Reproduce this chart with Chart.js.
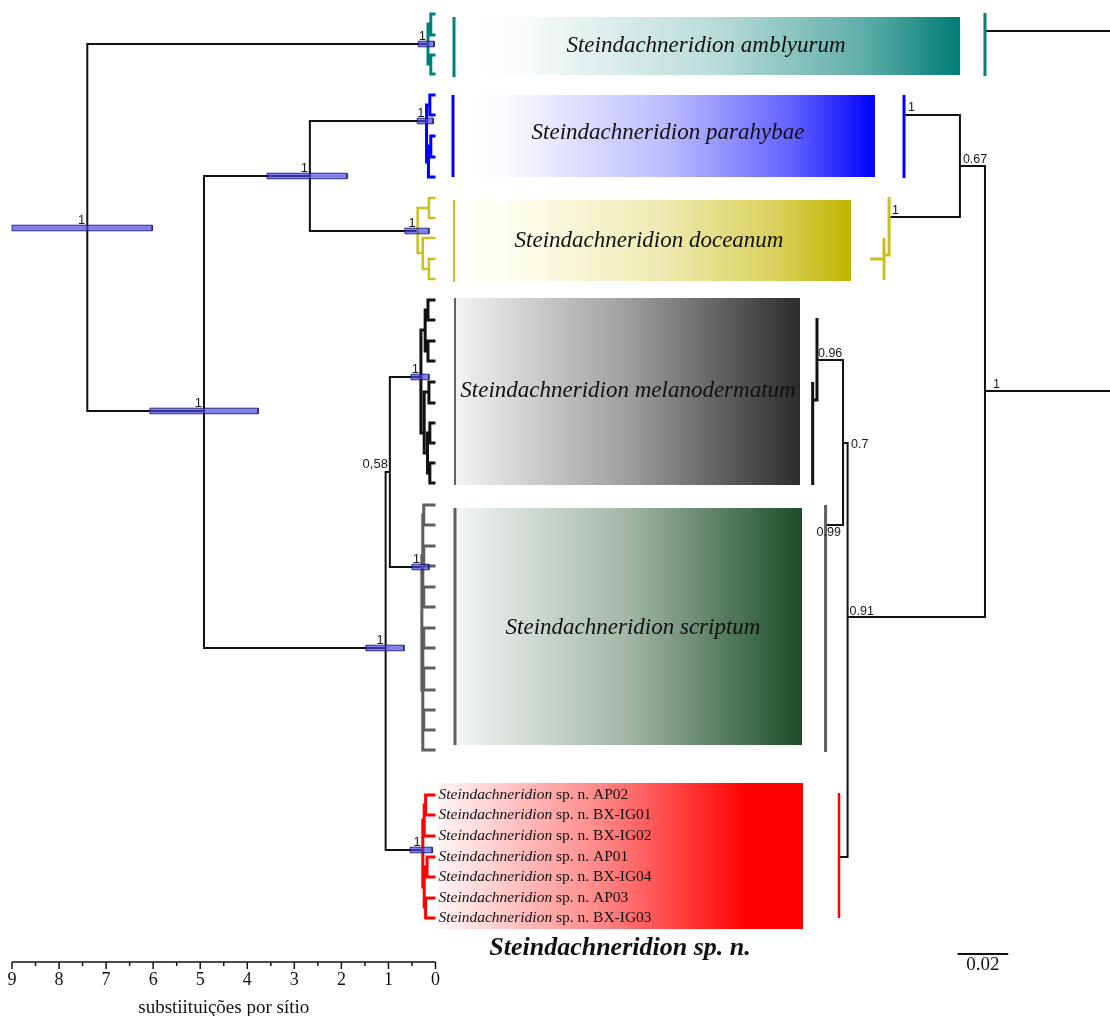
<!DOCTYPE html>
<html>
<head>
<meta charset="utf-8">
<script src="https://cdn.jsdelivr.net/npm/chart.js@4.4.1/dist/chart.umd.min.js"></script>
<style>html,body{margin:0;padding:0;background:#fff}</style>
</head>
<body>
<canvas id="tree" width="1110" height="1016"></canvas>
<script>
// ---------- left tree: time axis, substitutions per site (9 .. 0)
const axisTicks = [0, 1, 2, 3, 4, 5, 6, 7, 8, 9]
const minorTicks = [0.5, 1.5, 2.5, 3.5, 4.5, 5.5, 6.5, 7.5, 8.5]

// [id, parent, age, y-row]
const backbone = [
    ['root', null, 7.40, 228],
    ['amb', 'root', 0.16, 44],
    ['n411', 'root', 4.92, 411],
    ['n176', 'n411', 2.67, 176],
    ['par', 'n176', 0.19, 121],
    ['doc', 'n176', 0.38, 231],
    ['n648', 'n411', 1.06, 648],
    ['n472', 'n648', 0.97, 472],
    ['mel', 'n472', 0.31, 377],
    ['scr', 'n472', 0.29, 567],
    ['spn', 'n648', 0.27, 850],
]
const tealNodes = [['t1', 'amb', 0.10, 24], ['t2', 'amb', 0.10, 64]]
const tealTips = [['t1', 14], ['t1', 35], ['t2', 55], ['t2', 74]]
const blueNodes = [['b1', 'par', 0.12, 105], ['b2', 'par', 0.15, 162], ['b3', 'b2', 0.10, 146]]
const blueTips = [['b1', 95], ['b1', 115], ['b3', 136], ['b3', 157], ['b2', 177]]
const yellowNodes = [['y1', 'doc', 0.14, 208], ['y2', 'doc', 0.27, 253], ['y3', 'y2', 0.14, 269]]
const yellowTips = [['y1', 198], ['y1', 218], ['y2', 238], ['y3', 259], ['y3', 279]]
const melNodes = [
    ['m1', 'mel', 0.22, 330], ['m2', 'm1', 0.16, 310], ['m3', 'm1', 0.16, 351],
    ['m4', 'mel', 0.24, 433], ['m5', 'm4', 0.14, 392], ['m6', 'm4', 0.17, 453],
    ['m7', 'm6', 0.12, 433], ['m8', 'm6', 0.12, 473],
]
const melTips = [['m2', 300], ['m2', 320], ['m3', 341], ['m3', 361], ['m5', 382], ['m5', 403],
    ['m7', 423], ['m7', 443], ['m8', 463], ['m8', 483]]
const scrNodes = [
    ['s1', 'scr', 0.27, 556], ['s2', 'scr', 0.27, 690],
    ['p1', 's1', 0.25, 515], ['p2', 's1', 0.25, 556], ['p3', 's1', 0.25, 597],
    ['p4', 's2', 0.25, 638], ['p5', 's2', 0.25, 679], ['p6', 's2', 0.25, 720],
]
const scrTips = [['p1', 505], ['p1', 525], ['p2', 546], ['p2', 566], ['p3', 587], ['p3', 607],
    ['p4', 628], ['p4', 648], ['p5', 668], ['p5', 690], ['p6', 710], ['p6', 730], ['s2', 750]]
const spnNodes = [['r1', 'spn', 0.24, 820], ['r2', 'spn', 0.24, 887], ['r3', 'r1', 0.21, 805],
    ['r4', 'r2', 0.18, 867], ['r5', 'r2', 0.21, 907]]
const spnTips = [['r3', 795], ['r3', 815], ['r1', 836], ['r4', 857], ['r4', 877], ['r5', 898], ['r5', 918]]
const spnTipNames = ['AP02', 'BX-IG01', 'BX-IG02', 'AP01', 'BX-IG04', 'AP03', 'BX-IG03']

// 95% HPD of node ages: [node, older, younger]
const hpd = [
    ['root', 9.00, 6.02], ['n411', 6.07, 3.77], ['n176', 3.58, 1.88], ['n648', 1.48, 0.67],
    ['amb', 0.37, 0.03], ['par', 0.39, 0.05], ['doc', 0.65, 0.14],
    ['mel', 0.52, 0.14], ['scr', 0.50, 0.14], ['spn', 0.54, 0.07],
]
const leftSupport = [
    ['root', '1'], ['n411', '1'], ['n176', '1'], ['n648', '1'], ['n472', '0,58'],
    ['amb', '1'], ['par', '1'], ['doc', '1'], ['mel', '1'], ['scr', '1'], ['spn', '1'],
]

// ---------- right tree: substitutions per site (scale bar 0.02)
const rightBackbone = [
    ['rRoot', null, -0.060, 211],
    ['rAmb', 'rRoot', 0.0004, 31],
    ['rN1', 'rRoot', 0.0004, 391],
    ['rN067', 'rN1', 0.0103, 166],
    ['rPar', 'rN067', 0.0324, 115],
    ['rDoc', 'rN067', 0.0383, 217],
    ['rN091', 'rN1', 0.0547, 617],
    ['rN07', 'rN091', 0.0565, 443],
    ['rMel', 'rN07', 0.0668, 360],
    ['rScr', 'rN07', 0.0634, 525],
    ['rSpn', 'rN091', 0.0581, 857],
]
const rightDocNodes = [['rDoc2', 'rDoc', 0.0403, 255]]
const rightMelNodes = [['rMel2', 'rMel', 0.0685, 400]]
// [parent, x, y]
const rightTealTips = [['rAmb', 0.0004, 13], ['rAmb', 0.0004, 76]]
const rightBlueTips = [['rPar', 0.0324, 95], ['rPar', 0.0324, 178]]
const rightDocTips = [['rDoc', 0.0383, 197], ['rDoc2', 0.0403, 238], ['rDoc2', 0.0403, 280], ['rDoc2', 0.0458, 259]]
const rightMelTips = [['rMel', 0.0668, 318], ['rMel2', 0.0685, 382], ['rMel2', 0.0685, 485]]
const rightScrTips = [['rScr', 0.0634, 505], ['rScr', 0.0634, 752]]
const rightSpnTips = [['rSpn', 0.0581, 793], ['rSpn', 0.0581, 918]]
const rightSupport = [
    ['rPar', '1', 4, -4], ['rDoc', '1', 3, -3], ['rN067', '0.67', 3, -3], ['rN1', '1', 8, -3],
    ['rMel', '0.96', 1, -3], ['rN07', '0.7', 8, 5], ['rScr', '0.99', -9, 11], ['rN091', '0.91', 2, -2],
]
const scaleBar = [0.0112, 954, 0.02]

// ---------- clade panels (figure units on xp / y)
const panelSpans = [
    ['amb', 470, 960, 17, 75],
    ['par', 465, 875, 95, 177],
    ['doc', 468, 851, 200, 281],
    ['mel', 455, 800, 298, 485],
    ['scr', 455, 802, 508, 745],
    ['spn', 437, 803, 783, 929],
]
const panelBars = [['amb', 454, 17, 77], ['par', 453, 95, 177], ['doc', 454, 200, 282], ['mel', 455, 298, 485], ['scr', 455, 508, 745]]
const panelTitles = {
    amb: 'Steindachneridion amblyurum',
    par: 'Steindachneridion parahybae',
    doc: 'Steindachneridion doceanum',
    mel: 'Steindachneridion melanodermatum',
    scr: 'Steindachneridion scriptum',
}
const titleAt = { amb: [706, 46], par: [668, 133], doc: [649, 241], mel: [628, 391], scr: [633, 628] }

// ---------- styles
const SERIF = '"Liberation Serif", "Times New Roman", Times, serif'
const SANS = '"Liberation Sans", Arial, sans-serif'
const cladeColor = { amb: '#00827a', par: '#0000ff', doc: '#cbc11c', mel: '#111111', scr: '#5e5e5e', spn: '#ff0000' }
const panelEnds = {
    amb: ['#ffffff', '#007d74'], par: ['#ffffff', '#0000ff'], doc: ['#fffff6', '#c2b500'],
    mel: ['#f3f3f3', '#2c2c2c'], scr: ['#f4f6f4', '#1b4d29'], spn: ['#fff6f6', '#ff0000'],
}
const defaultCurve = [[0, 0], [0.1, 0.02], [0.5, 0.27], [0.8, 0.62], [1, 1]]
const panelCurve = {
    mel: [[0, 0], [0.5, 0.42], [1, 1]],
    scr: [[0, 0], [0.5, 0.38], [1, 1]],
    spn: [[0, 0], [0.45, 0.45], [0.85, 1], [1, 1]],
}

// ---------- build
const nodePos = {}
const allNodes = [backbone, tealNodes, blueNodes, yellowNodes, melNodes, scrNodes, spnNodes,
    rightBackbone, rightDocNodes, rightMelNodes]
allNodes.forEach(list => list.forEach(([id, parent, x, y]) => { nodePos[id] = { x, y } }))

const GAP = { x: null, y: null }
function elbow(parentId, x, y) {
    const p = nodePos[parentId]
    return [{ x: p.x, y: p.y }, { x: p.x, y: y }, { x: x, y: y }, GAP]
}
function edgesOf(nodes, tips, rightTips) {
    let pts = []
    nodes.forEach(([id, parent, x, y]) => { if (parent) pts = pts.concat(elbow(parent, x, y)) })
    if (tips) tips.forEach(([parent, y]) => { pts = pts.concat(elbow(parent, 0, y)) })
    if (rightTips) rightTips.forEach(([parent, x, y]) => { pts = pts.concat(elbow(parent, x, y)) })
    return pts
}

const datasets = []
function lineSet(points, color, width, axis, order, extra) {
    datasets.push(Object.assign({
        type: 'line', data: points, xAxisID: axis, yAxisID: 'y',
        borderColor: color, borderWidth: width, pointRadius: 0, fill: false,
        borderJoinStyle: 'miter', order: order, clip: false,
    }, extra || {}))
}

function mix(a, b, t) {
    const pa = [1, 3, 5].map(i => parseInt(a.substr(i, 2), 16))
    const pb = [1, 3, 5].map(i => parseInt(b.substr(i, 2), 16))
    return 'rgb(' + pa.map((v, i) => Math.round(v + (pb[i] - v) * t)).join(',') + ')'
}
function panelFill(key, x0, x1) {
    return function (c) {
        const chart = c.chart
        const s = chart.scales.xp
        const ends = panelEnds[key]
        if (!chart.chartArea || !s) return ends[1]
        const g = chart.ctx.createLinearGradient(s.getPixelForValue(x0), 0, s.getPixelForValue(x1), 0)
        ;(panelCurve[key] || defaultCurve).forEach(([stop, t]) => g.addColorStop(stop, mix(ends[0], ends[1], t)))
        return g
    }
}

// panels
panelSpans.forEach(([key, x0, x1, y0, y1]) => {
    lineSet([{ x: x0, y: y0 }, { x: x1, y: y0 }, { x: x1, y: y1 }, { x: x0, y: y1 }, { x: x0, y: y0 }],
        'rgba(0,0,0,0)', 0, 'xp', 30, { fill: 'shape', backgroundColor: panelFill(key, x0, x1) })
})
panelBars.forEach(([key, x, y0, y1]) => {
    lineSet([{ x: x, y: y0 }, { x: x, y: y1 }], key === 'mel' ? '#333333' : cladeColor[key],
        key === 'mel' ? 1.5 : (key === 'doc' ? 2 : 3), 'xp', 20)
})

// left tree
lineSet(edgesOf(backbone), '#111111', 2, 'x', 10)
lineSet(edgesOf(tealNodes, tealTips), cladeColor.amb, 3, 'x', 9)
lineSet(edgesOf(blueNodes, blueTips), cladeColor.par, 3, 'x', 9)
lineSet(edgesOf(yellowNodes, yellowTips), cladeColor.doc, 2.5, 'x', 9)
lineSet(edgesOf(melNodes, melTips), cladeColor.mel, 3, 'x', 9)
lineSet(edgesOf(scrNodes, scrTips), cladeColor.scr, 3, 'x', 9)
lineSet(edgesOf(spnNodes, spnTips), cladeColor.spn, 3, 'x', 9)

// HPD bars
let hpdPts = []
hpd.forEach(([id, lo, hi]) => {
    const y = nodePos[id].y
    hpdPts = hpdPts.concat([{ x: lo, y: y - 2.8 }, { x: hi, y: y - 2.8 }, { x: hi, y: y + 2.8 },
        { x: lo, y: y + 2.8 }, { x: lo, y: y - 2.8 }, GAP])
})
lineSet(hpdPts, 'rgba(25,25,120,0.85)', 1, 'x', 1, { fill: 'shape', backgroundColor: 'rgba(70,70,220,0.68)' })

// axis baseline + tick marks
let axisPts = [{ x: 9, y: 962 }, { x: 0, y: 962 }, GAP]
axisTicks.forEach(v => { axisPts = axisPts.concat([{ x: v, y: 962 }, { x: v, y: 969 }, GAP]) })
minorTicks.forEach(v => { axisPts = axisPts.concat([{ x: v, y: 962 }, { x: v, y: 966 }, GAP]) })
lineSet(axisPts, '#111111', 1.5, 'x', 5)

// right tree
lineSet(edgesOf(rightBackbone), '#111111', 2, 'xr', 10)
lineSet(edgesOf([], null, rightTealTips), cladeColor.amb, 3, 'xr', 9)
lineSet(edgesOf([], null, rightBlueTips), cladeColor.par, 3, 'xr', 9)
lineSet(edgesOf(rightDocNodes, null, rightDocTips), cladeColor.doc, 3, 'xr', 9)
lineSet(edgesOf(rightMelNodes, null, rightMelTips), cladeColor.mel, 3, 'xr', 9)
lineSet(edgesOf([], null, rightScrTips), cladeColor.scr, 3, 'xr', 9)
lineSet(edgesOf([], null, rightSpnTips), cladeColor.spn, 2.5, 'xr', 9)
lineSet([{ x: scaleBar[0], y: scaleBar[1] }, { x: scaleBar[0] - scaleBar[2], y: scaleBar[1] }], '#111111', 2, 'xr', 5)

const treeText = {
    id: 'treeText',
    afterDatasetsDraw(chart) {
        const { ctx } = chart
        const { x, xr, xp, y } = chart.scales
        ctx.save()
        ctx.fillStyle = '#1a1a1a'
        ctx.font = '13px ' + SANS
        ctx.textBaseline = 'alphabetic'
        ctx.textAlign = 'right'
        leftSupport.forEach(([id, txt]) => {
            const n = nodePos[id]
            ctx.fillText(txt, x.getPixelForValue(n.x) - 2, y.getPixelForValue(n.y) - 4)
        })
        ctx.font = '12.5px ' + SANS
        ctx.textAlign = 'left'
        rightSupport.forEach(([id, txt, dx, dy]) => {
            const n = nodePos[id]
            ctx.fillText(txt, xr.getPixelForValue(n.x) + dx, y.getPixelForValue(n.y) + dy)
        })

        ctx.fillStyle = '#111'
        ctx.font = 'italic 23px ' + SERIF
        ctx.textAlign = 'center'
        ctx.textBaseline = 'middle'
        Object.keys(panelTitles).forEach(k => {
            const at = titleAt[k]
            ctx.fillText(panelTitles[k], xp.getPixelForValue(at[0]), y.getPixelForValue(at[1]))
        })
        ctx.font = 'bold italic 26px ' + SERIF
        ctx.fillText('Steindachneridion sp. n.', xp.getPixelForValue(620), y.getPixelForValue(948))

        // tip names of the new species
        ctx.textAlign = 'left'
        spnTips.forEach(([p, ty], i) => {
            const px = x.getPixelForValue(0) + 3
            const py = y.getPixelForValue(ty)
            ctx.font = 'italic 15.5px ' + SERIF
            ctx.fillText('Steindachneridion', px, py)
            const w = ctx.measureText('Steindachneridion').width
            ctx.font = '15.5px ' + SERIF
            ctx.fillText(' sp. n. ' + spnTipNames[i], px + w, py)
        })

        // scale bar label and axis title
        ctx.font = '19px ' + SERIF
        ctx.textAlign = 'center'
        ctx.textBaseline = 'alphabetic'
        ctx.fillText(String(scaleBar[2]), xr.getPixelForValue(scaleBar[0] - scaleBar[2] / 2), y.getPixelForValue(970))
        ctx.fillText('substiituições por sítio', (x.getPixelForValue(9) + x.getPixelForValue(0)) / 2, 1013)
        ctx.restore()
    }
}

const tree = new Chart(document.getElementById('tree'), {
    type: 'line',
    data: { datasets: datasets },
    options: {
        responsive: false,
        animation: false,
        events: [],
        layout: { padding: 0 },
        plugins: { legend: { display: false }, tooltip: { enabled: false } },
        scales: {
            x: {
                type: 'linear', reverse: true, min: -14.334, max: 9.255, position: 'bottom',
                grid: { display: false, drawTicks: false },
                border: { display: false },
                ticks: { padding: 7, color: '#111', autoSkip: false, maxRotation: 0, font: { family: SERIF, size: 18 } },
                afterBuildTicks: s => { s.ticks = axisTicks.map(v => ({ value: v })) },
                afterFit: s => { s.height = 54 },
            },
            xp: { type: 'linear', display: false, min: 0, max: 1110 },
            xr: { type: 'linear', display: false, reverse: true, min: -0.04902, max: 0.38972 },
            y: { type: 'linear', display: false, reverse: true, min: 0, max: 962 },
        },
    },
    plugins: [treeText],
})
</script>
</body>
</html>
